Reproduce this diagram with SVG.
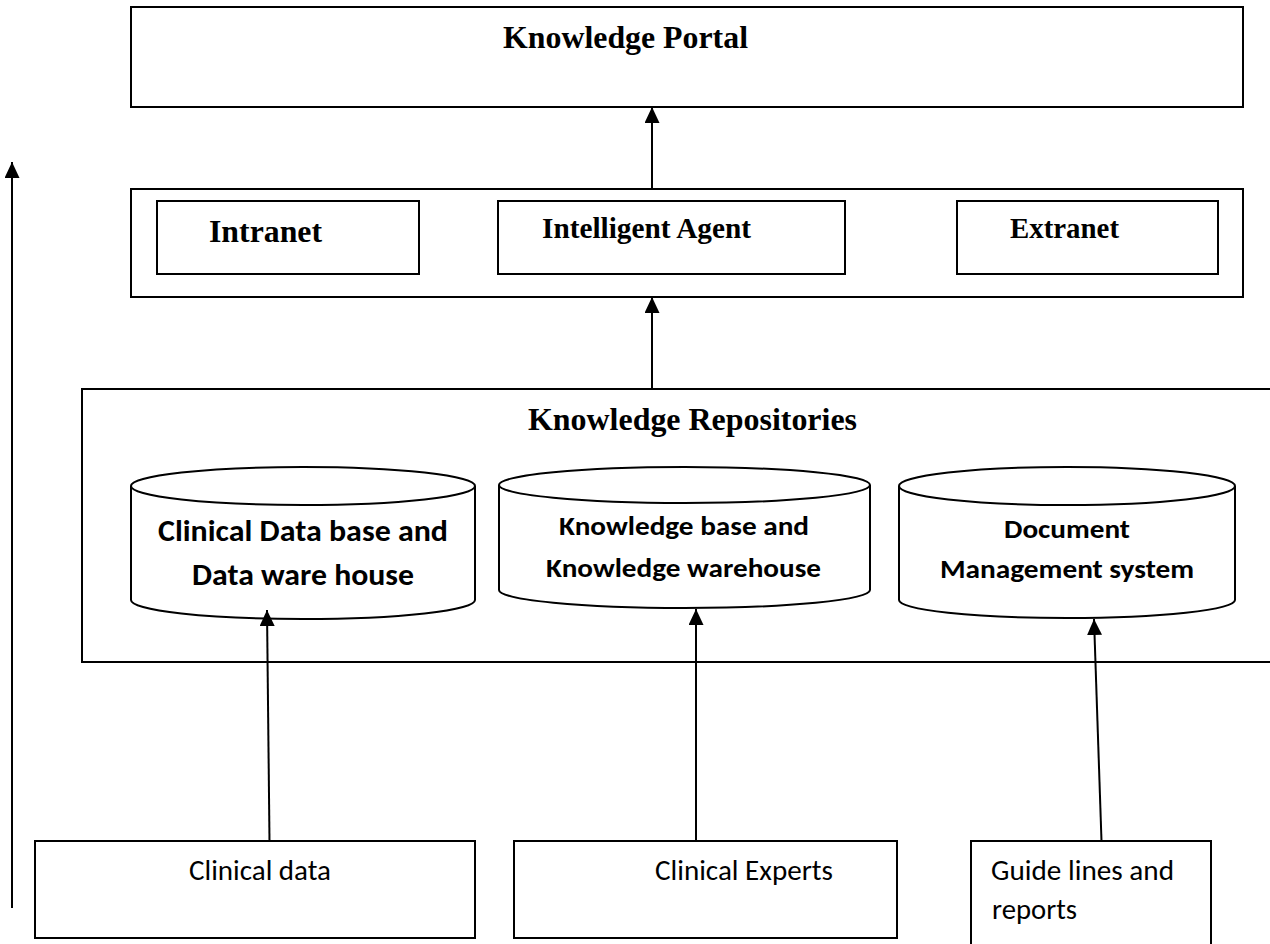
<svg xmlns="http://www.w3.org/2000/svg" width="1270" height="944" viewBox="0 0 1270 944">
<style>
.box{fill:#fff;stroke:#000;stroke-width:2}
.cyl{fill:#fff;stroke:#000;stroke-width:2}
.con{fill:none;stroke:#000;stroke-width:2}
.ser{font-family:"Liberation Serif","Times New Roman",serif;font-weight:bold;fill:#000}
.cb{font-family:Carlito,Lato,"Open Sans",sans-serif;font-weight:bold;fill:#000}
.cr{font-family:Carlito,Lato,"Open Sans",sans-serif;font-weight:normal;fill:#000}
</style>
<defs>
<marker id="arr" viewBox="0 0 16 15" refX="16" refY="7.5" markerWidth="16" markerHeight="15" orient="auto" markerUnits="userSpaceOnUse">
<path d="M0,0 L16,7.5 L0,15 Z" fill="#000"/>
</marker>
</defs>
<rect width="1270" height="944" fill="#fff"/>

<g id="portal">
<rect class="box" x="131" y="7" width="1112" height="100"/>
<text class="ser" x="503" y="48" font-size="32" textLength="245" lengthAdjust="spacingAndGlyphs">Knowledge Portal</text>
</g>

<g id="access-layer">
<rect class="box" x="131" y="189" width="1112" height="108"/>
</g>
<g id="intranet">
<rect class="box" x="157" y="201" width="262" height="73"/>
<text class="ser" x="209" y="242" font-size="32" textLength="113" lengthAdjust="spacingAndGlyphs">Intranet</text>
</g>
<g id="intelligent-agent">
<rect class="box" x="498" y="201" width="347" height="73"/>
<text class="ser" x="542" y="238" font-size="29" textLength="209" lengthAdjust="spacingAndGlyphs">Intelligent Agent</text>
</g>
<g id="extranet">
<rect class="box" x="957" y="201" width="261" height="73"/>
<text class="ser" x="1010" y="238" font-size="29" textLength="109" lengthAdjust="spacingAndGlyphs">Extranet</text>
</g>

<g id="repositories">
<rect class="box" x="82" y="389" width="1200" height="273"/>
<text class="ser" x="528" y="430" font-size="32" textLength="329" lengthAdjust="spacingAndGlyphs">Knowledge Repositories</text>
</g>

<g id="clinical-db">
<path class="cyl" d="M131,486 L131,600 A172,19 0 0 0 475,600 L475,486"/>
<ellipse class="cyl" cx="303" cy="486" rx="172" ry="19"/>
<text class="cb" x="158" y="541" font-size="31" textLength="290" lengthAdjust="spacingAndGlyphs">Clinical Data base and</text>
<text class="cb" x="192" y="585" font-size="31" textLength="222" lengthAdjust="spacingAndGlyphs">Data ware house</text>
</g>

<g id="knowledge-base">
<path class="cyl" d="M499,485 L499,590 A185.5,18 0 0 0 870,590 L870,485"/>
<ellipse class="cyl" cx="684.5" cy="485" rx="185.5" ry="18"/>
<text class="cb" x="559" y="535" font-size="27" textLength="250" lengthAdjust="spacingAndGlyphs">Knowledge base and</text>
<text class="cb" x="546" y="577" font-size="27" textLength="275" lengthAdjust="spacingAndGlyphs">Knowledge warehouse</text>
</g>

<g id="document-mgmt">
<path class="cyl" d="M899,486 L899,600 A168,18 0 0 0 1235,600 L1235,486"/>
<ellipse class="cyl" cx="1067" cy="486" rx="168" ry="19"/>
<text class="cb" x="1004" y="538" font-size="27" textLength="126" lengthAdjust="spacingAndGlyphs">Document</text>
<text class="cb" x="940" y="578" font-size="27" textLength="254" lengthAdjust="spacingAndGlyphs">Management system</text>
</g>

<g id="clinical-data">
<rect class="box" x="35" y="841" width="440" height="97"/>
<text class="cr" x="189" y="880" font-size="28" textLength="142" lengthAdjust="spacingAndGlyphs">Clinical data</text>
</g>
<g id="clinical-experts">
<rect class="box" x="514" y="841" width="383" height="97"/>
<text class="cr" x="655" y="880" font-size="28" textLength="178" lengthAdjust="spacingAndGlyphs">Clinical Experts</text>
</g>
<g id="guidelines">
<rect class="box" x="971" y="841" width="240" height="112"/>
<text class="cr" x="991" y="880" font-size="28" textLength="183" lengthAdjust="spacingAndGlyphs">Guide lines and</text>
<text class="cr" x="992" y="919" font-size="28" textLength="85" lengthAdjust="spacingAndGlyphs">reports</text>
</g>

<g id="connectors">
<line class="con" x1="652" y1="189" x2="652" y2="107" marker-end="url(#arr)"/>
<line class="con" x1="652" y1="389" x2="652" y2="297" marker-end="url(#arr)"/>
<line class="con" x1="269.5" y1="841" x2="267" y2="610" marker-end="url(#arr)"/>
<line class="con" x1="696" y1="841" x2="696" y2="609" marker-end="url(#arr)"/>
<line class="con" x1="1101.5" y1="841" x2="1094" y2="619" marker-end="url(#arr)"/>
<line class="con" x1="12" y1="908" x2="12" y2="162" marker-end="url(#arr)"/>
</g>
</svg>
